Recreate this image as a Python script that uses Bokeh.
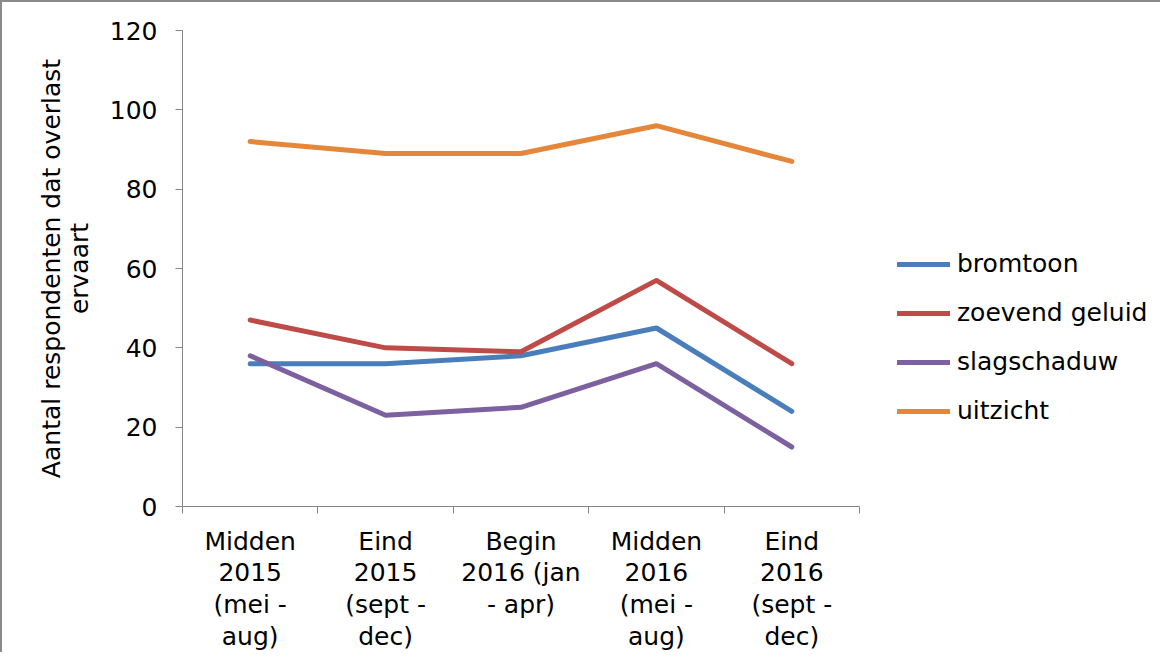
from bokeh.plotting import figure
from bokeh.models import Range1d, FixedTicker, Legend, LegendItem
from bokeh.embed import file_html
from bokeh.resources import INLINE

categories = ["Midden\n2015\n(mei -\naug)", "Eind\n2015\n(sept -\ndec)", "Begin\n2016 (jan\n- apr)",
              "Midden\n2016\n(mei -\naug)", "Eind\n2016\n(sept -\ndec)"]
bromtoon = [36, 36, 38, 45, 24]
zoevend_geluid = [47, 40, 39, 57, 36]
slagschaduw = [38, 23, 25, 36, 15]
uitzicht = [92, 89, 89, 96, 87]
series_names = ["bromtoon", "zoevend geluid", "slagschaduw", "uitzicht"]
series_values = [bromtoon, zoevend_geluid, slagschaduw, uitzicht]
colors = ["#4A7EBB", "#BE4B48", "#7D60A0", "#E5873B"]
y_ticks = [0, 20, 40, 60, 80, 100, 120]

FONT = "DejaVu Sans"
AXIS_GRAY = "#868686"

W, H = 1160, 652
LEFT, TOP, BOTTOM = 180, 28, 148
AXIS_PX = 677  # visible width of the category axis
n = len(categories)
xs = [i + 0.5 for i in range(n)]
x_end = n * (W - LEFT) / AXIS_PX

p = figure(width=W, height=H, output_backend="svg", toolbar_location=None,
           x_range=Range1d(0, x_end), y_range=Range1d(0, 120),
           min_border_left=LEFT, min_border_top=TOP, min_border_right=0, min_border_bottom=BOTTOM,
           styles={"border-top": "2px solid #8a8a8a", "border-left": "2px solid #8a8a8a"})
p.outline_line_color = None
p.xgrid.grid_line_color = None
p.ygrid.grid_line_color = None
p.background_fill_color = "white"
p.border_fill_color = "white"

renderers = []
for name, vals, c in zip(series_names, series_values, colors):
    r = p.line(xs, vals, line_color=c, line_width=5, line_cap="round", line_join="round")
    renderers.append((name, r))

# x axis
xa = p.xaxis[0]
xa.bounds = (0, n)
xa.ticker = FixedTicker(ticks=xs, minor_ticks=list(range(n + 1)))
xa.major_label_overrides = {x: lab for x, lab in zip(xs, categories)}
xa.major_tick_line_color = None
xa.major_tick_out = 0
xa.major_tick_in = 0
xa.minor_tick_line_color = AXIS_GRAY
xa.minor_tick_out = 7
xa.minor_tick_in = 0
xa.axis_line_color = AXIS_GRAY
xa.major_label_text_font = FONT
xa.major_label_text_font_size = "25px"
xa.major_label_text_color = "black"
xa.major_label_text_line_height = 1.1
xa.major_label_standoff = 13

# y axis
ya = p.yaxis[0]
ya.ticker = FixedTicker(ticks=y_ticks, minor_ticks=[])
ya.major_tick_out = 7
ya.major_tick_in = 0
ya.major_tick_line_color = AXIS_GRAY
ya.axis_line_color = AXIS_GRAY
ya.major_label_text_font = FONT
ya.major_label_text_font_size = "25px"
ya.major_label_text_color = "black"
ya.major_label_standoff = 18
ya.axis_label = "Aantal respondenten dat overlast\nervaart"
ya.axis_label_text_font = FONT
ya.axis_label_text_font_size = "25px"
ya.axis_label_text_font_style = "normal"
ya.axis_label_text_color = "black"
ya.axis_label_text_line_height = 0.97
ya.axis_label_standoff = 13

legend = Legend(items=[LegendItem(label=nm, renderers=[r]) for nm, r in renderers],
                location=(715, 81), orientation="vertical",
                glyph_width=53, glyph_height=20, label_height=20, spacing=20,
                padding=0, margin=0, label_standoff=7,
                label_text_font=FONT, label_text_font_size="25px", label_text_color="black",
                border_line_color=None, background_fill_alpha=0)
p.add_layout(legend, "center")

open("out.html", "w").write(file_html(p, INLINE))
